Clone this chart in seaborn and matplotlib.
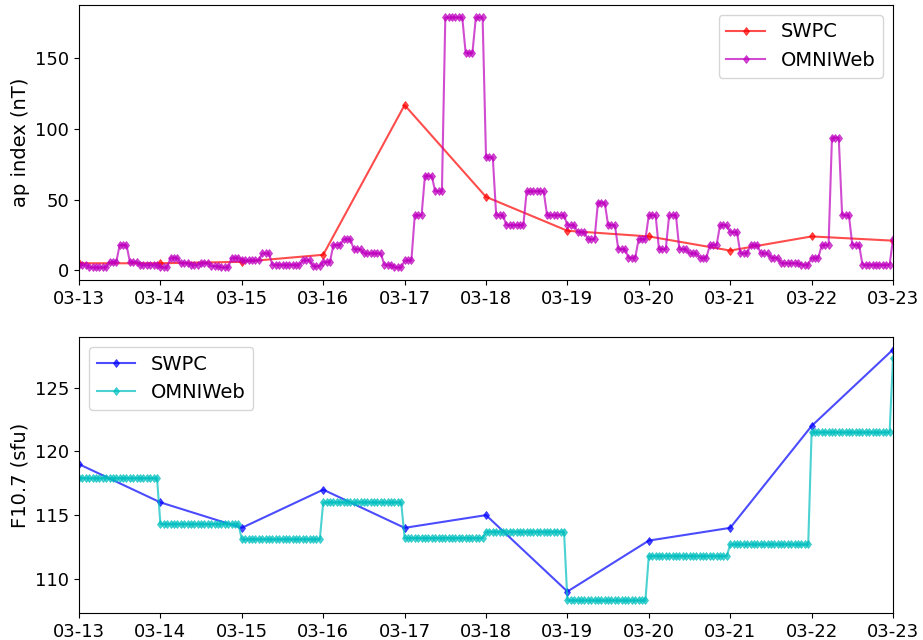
import numpy as np
import pandas as pd
import matplotlib
matplotlib.use("Agg")
import matplotlib.pyplot as plt
import matplotlib.dates as mdates
import seaborn as sns

# ---- data -------------------------------------------------------------
days = pd.date_range("2015-03-13", "2015-03-23", freq="D")

# SWPC daily values
swpc_ap = [5, 5, 6, 11, 117, 52, 28, 24, 14, 24, 21]
swpc_f107 = [119, 116, 114, 117, 114, 115, 109, 113, 114, 122, 128]

# OMNIWeb 3-hourly ap (8 per day, 03-13 .. 03-22) and the first value of 03-23
omni_ap_3h = [
    [4, 2, 2, 6, 18, 6, 4, 4],          # 03-13
    [2, 9, 5, 4, 5, 3, 2, 9],           # 03-14
    [7, 7, 12, 4, 4, 4, 7, 3],          # 03-15
    [6, 18, 22, 15, 12, 12, 4, 2],      # 03-16
    [7, 39, 67, 56, 179, 179, 154, 179],  # 03-17
    [80, 39, 32, 32, 56, 56, 39, 39],   # 03-18
    [32, 27, 22, 48, 32, 15, 9, 22],    # 03-19
    [39, 15, 39, 15, 12, 9, 18, 32],    # 03-20
    [27, 12, 18, 12, 9, 5, 5, 4],       # 03-21
    [9, 18, 94, 39, 18, 4, 4, 4],       # 03-22
]
omni_ap_last = 22

# OMNIWeb daily F10.7 (hourly records, 03-13 .. 03-22) and 03-23 00h
omni_f107_daily = [117.9, 114.3, 113.1, 116.0, 113.2, 113.7, 108.3, 111.8, 112.7, 121.5]
omni_f107_last = 127.3

# hourly OMNIWeb records
omni_ap = np.append(np.repeat(np.ravel(omni_ap_3h), 3), omni_ap_last)
omni_f107 = np.append(np.repeat(omni_f107_daily, 24), omni_f107_last)
hours = pd.date_range("2015-03-13", periods=len(omni_ap), freq="h")

# ---- figure -----------------------------------------------------------
plt.rcParams["font.family"] = ["DejaVu Sans"]
fs_tick = 13
fs_text = 14

fig = plt.figure(figsize=(9.23, 6.4), dpi=100)
ax1 = fig.add_axes([0.0856, 0.5625, 0.8819, 0.4297])
ax2 = fig.add_axes([0.0856, 0.0422, 0.8819, 0.4312])

mk = dict(marker="d", markersize=4.5, mew=0.6, alpha=0.7, linewidth=1.5)

sns.lineplot(x=days, y=swpc_ap, ax=ax1, color="r", mec="r", label="SWPC", **mk)
sns.lineplot(x=hours, y=omni_ap, ax=ax1, color="m", mec="m", label="OMNIWeb", **mk)
ax1.set_ylabel("ap index (nT)", fontsize=fs_text)
ax1.legend(loc="upper right", fontsize=fs_text)

sns.lineplot(x=days, y=swpc_f107, ax=ax2, color="b", mec="b", label="SWPC", **mk)
sns.lineplot(x=hours, y=omni_f107, ax=ax2, color="c", mec="c", label="OMNIWeb", **mk)
ax2.set_ylabel("F10.7 (sfu)", fontsize=fs_text)
ax2.legend(loc="upper left", fontsize=fs_text)

for ax in (ax1, ax2):
    ax.set_xlim(days[0], days[-1])
    ax.xaxis.set_major_locator(mdates.DayLocator())
    ax.xaxis.set_major_formatter(mdates.DateFormatter("%m-%d"))
    ax.tick_params(labelsize=fs_tick)
    ax.set_xlabel("")

fig.savefig("out.png", dpi=100)
